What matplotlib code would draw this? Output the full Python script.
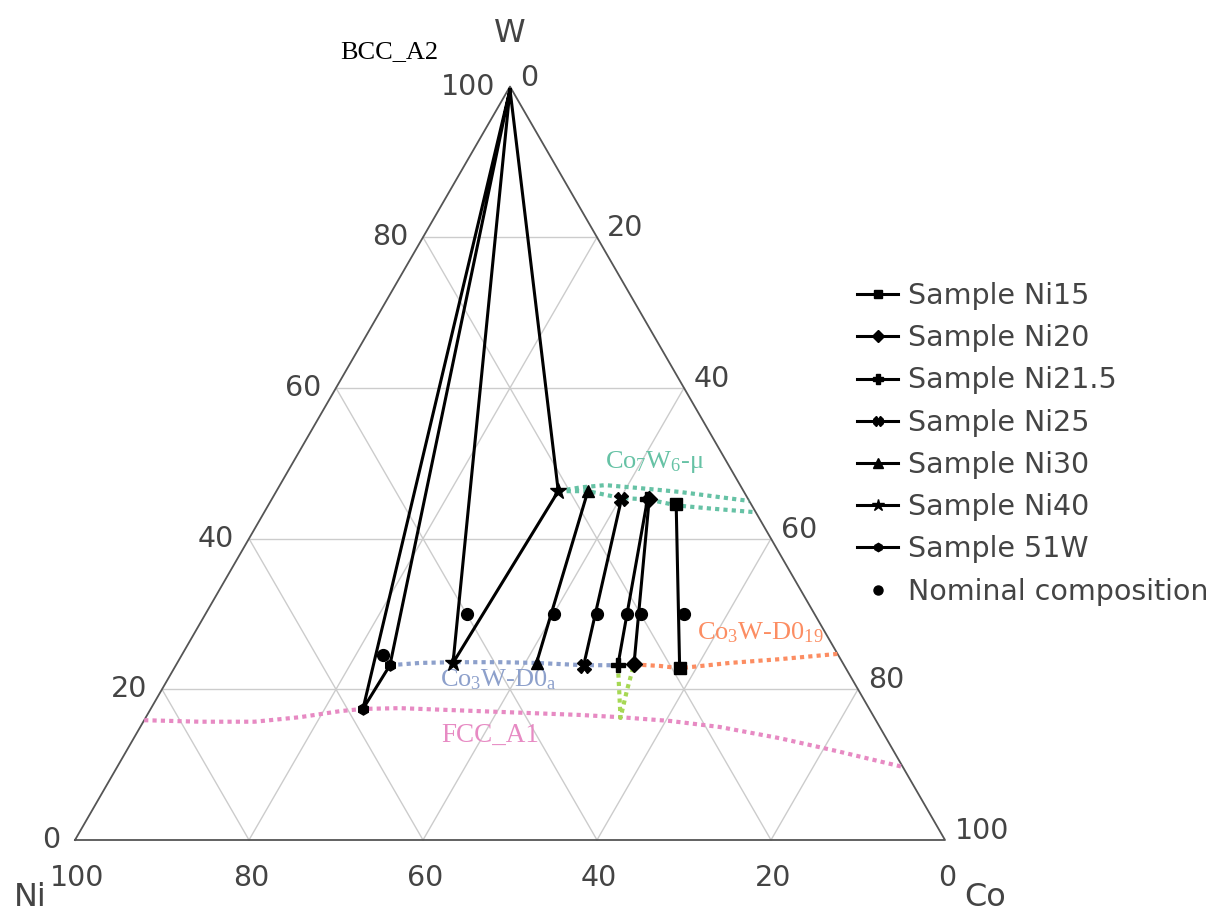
import numpy as np
import matplotlib.pyplot as plt
from matplotlib.lines import Line2D

plt.rcParams['font.family'] = 'DejaVu Sans'
plt.rcParams['mathtext.fontset'] = 'custom'
plt.rcParams['mathtext.rm'] = 'Liberation Serif'
plt.rcParams['mathtext.it'] = 'Liberation Serif:italic'

# compositions in at.% given as (W, Ni); Co is the balance
bcc_w, bcc_ni = 99.6, 0.2

ni15_w, ni15_ni = [44.6, 22.8], [8.6, 19.1]
ni20_w, ni20_ni = [45.2, 23.3], [11.4, 24.1]
ni215_w, ni215_ni = [45.2, 23.2], [11.6, 26.0]
ni25_w, ni25_ni = [45.2, 23.1], [14.6, 30.0]
ni30_w, ni30_ni = [46.3, 23.5], [17.9, 35.2]
ni40_w, ni40_ni = [bcc_w, 46.3, 23.5, bcc_w], [bcc_ni, 21.3, 44.8, bcc_ni]
w51_w, w51_ni = [bcc_w, 17.4, 23.2, bcc_w], [bcc_ni, 58.2, 52.2, bcc_ni]

nominal_w = [30, 30, 30, 30, 30, 30, 24.5]
nominal_ni = [15, 20, 21.5, 25, 30, 40, 52.4]

sample_names = ['Sample Ni15', 'Sample Ni20', 'Sample Ni21.5', 'Sample Ni25',
                'Sample Ni30', 'Sample Ni40', 'Sample 51W']
sample_markers = ['s', 'D', 'P', 'X', '^', '*', 'h']
sample_w = [ni15_w, ni20_w, ni215_w, ni25_w, ni30_w, ni40_w, w51_w]
sample_ni = [ni15_ni, ni20_ni, ni215_ni, ni25_ni, ni30_ni, ni40_ni, w51_ni]

# phase boundaries (W, Ni)
mu_up_w = [46.3, 46.8, 47.1, 46.7, 46.2, 45.5, 45.0]
mu_up_ni = [21.3, 18.5, 15.5, 11.7, 7.4, 3.1, 0.0]
mu_lo_w = [46.3, 46.3, 45.4, 45.2, 44.4, 44.0, 43.5]
mu_lo_ni = [21.3, 17.9, 14.6, 11.5, 8.6, 5.0, 0.0]
d0a_w = [23.2, 23.5, 23.6, 23.6, 23.5, 23.2, 23.2]
d0a_ni = [52.2, 48.6, 44.7, 39.3, 35.2, 29.9, 26.0]
d019_w = [23.3, 23.1, 22.8, 23.5, 24.0, 24.7]
d019_ni = [24.1, 21.2, 19.1, 13.0, 7.0, 0.0]
fcc_d0_w = [23.2, 19.9, 16.2, 19.9, 23.3]
fcc_d0_ni = [26.0, 27.5, 29.2, 26.6, 24.1]
fcc_w = [15.9, 15.7, 15.7, 16.3, 17.1, 17.4, 17.5, 17.1, 16.6, 16.3, 15.8,
         15.0, 13.5, 11.7, 9.7]
fcc_ni = [84.1, 77.8, 71.5, 66.0, 61.0, 58.2, 53.9, 44.9, 33.7, 29.2, 23.7,
          18.4, 12.2, 6.2, 0.0]

ticks = [0, 20, 40, 60, 80, 100]


def tern(w, ni):
    w = np.asarray(w, dtype=float)
    ni = np.asarray(ni, dtype=float)
    co = 100 - w - ni
    return (co + w / 2) / 100, w / 100 * np.sqrt(3) / 2


fig = plt.figure(figsize=(12.15, 9.17), dpi=100)
ax = fig.add_axes([0, 0, 1, 1])
ax.set_xlim(-75 / 870, 1140 / 870)
ax.set_ylim(-77 / 870, 840 / 870)
ax.axis('off')

grid_c = '#cccccc'
edge_c = '#555555'
txt_c = '#444444'

# grid
for g in ticks[1:-1]:
    ax.plot(*tern([g, g], [100 - g, 0]), color=grid_c, lw=1, zorder=1)
    ax.plot(*tern([100 - g, 0], [g, g]), color=grid_c, lw=1, zorder=1)
    ax.plot(*tern([100 - g, 0], [0, 100 - g]), color=grid_c, lw=1, zorder=1)
ax.plot(*tern([0, 0, 100, 0], [100, 0, 0, 100]), color=edge_c, lw=1.3, zorder=2)

# tick labels
px = 1 / 870
for t in ticks:
    x, y = tern(t, 100 - t)
    ax.text(x - 15 * px, y, str(t), ha='right', va='center', fontsize=20.5, color=txt_c)
    x, y = tern(0, t)
    ax.text(x + 2 * px, y - 38 * px, str(t), ha='center', va='center', fontsize=20.5, color=txt_c)
    x, y = tern(100 - t, 0)
    ax.text(x + 10 * px, y + 9 * px, str(t), ha='left', va='center', fontsize=20.5, color=txt_c)

ax.text(0.5, 807 * px, 'W', ha='center', va='center', fontsize=23, color=txt_c)
ax.text(-45 * px, -57 * px, 'Ni', ha='center', va='center', fontsize=23, color=txt_c)
ax.text(910 * px, -58 * px, 'Co', ha='center', va='center', fontsize=23, color=txt_c)

# phase boundaries
dot = (0, (1, 1))
set2 = ['#66c2a5', '#fc8d62', '#8da0cb', '#e78ac3', '#a6d854']
ax.plot(*tern(mu_up_w, mu_up_ni), color=set2[0], lw=3, ls=dot, zorder=3)
ax.plot(*tern(mu_lo_w, mu_lo_ni), color=set2[0], lw=3, ls=dot, zorder=3)
ax.plot(*tern(d019_w, d019_ni), color=set2[1], lw=3, ls=dot, zorder=3)
ax.plot(*tern(d0a_w, d0a_ni), color=set2[2], lw=3, ls=dot, zorder=3)
ax.plot(*tern(fcc_w, fcc_ni), color=set2[3], lw=3, ls=dot, zorder=3)
ax.plot(*tern(fcc_d0_w, fcc_d0_ni), color=set2[4], lw=3, ls=dot, zorder=3)

serif = 'Liberation Serif'
ax.text(314 * px, 788 * px, 'BCC_A2', ha='center', va='center', fontsize=19, family=serif, color='black')
ax.text(0.6667, 0.4345, r'Co$_\mathrm{7}$W$_\mathrm{6}$-μ', ha='center', va='center',
        fontsize=19, family=serif, color=set2[0])
ax.text(0.7874, 0.2379, r'Co$_\mathrm{3}$W-D0$_\mathrm{19}$', ha='center', va='center',
        fontsize=19, family=serif, color=set2[1])
ax.text(0.4862, 0.1839, r'Co$_\mathrm{3}$W-D0$_\mathrm{a}$', ha='center', va='center',
        fontsize=19, family=serif, color=set2[2])
ax.text(0.477, 0.1207, 'FCC_A1', ha='center', va='center', fontsize=19.5, family=serif, color=set2[3])

# samples
sizes = {'s': 8.5, 'D': 8, 'P': 10, 'X': 9.5, '^': 9, '*': 12, 'h': 8}
handles = []
for name, mk, ws, nis in zip(sample_names, sample_markers, sample_w, sample_ni):
    x, y = tern(ws, nis)
    if len(ws) > 2:
        every = list(range(1, len(ws) - 1))
    else:
        every = None
    ax.plot(x, y, color='black', lw=2.2, marker=mk, ms=sizes[mk], markevery=every, zorder=5)
    handles.append(Line2D([], [], color='black', lw=2.2, marker=mk, ms=sizes[mk] * 0.75, label=name))

ax.plot(*tern(nominal_w, nominal_ni), 'o', color='black', ms=8.5, zorder=6)
handles.append(Line2D([], [], color='black', ls='none', marker='o', ms=6.5, label='Nominal composition'))

fig.legend(handles=handles, loc='upper left', bbox_to_anchor=(857 / 1215, 1 - 282 / 917),
           frameon=False, fontsize=20.5, handlelength=1.45, handletextpad=0.35,
           labelspacing=0.5, borderpad=0, borderaxespad=0, labelcolor=txt_c)

fig.savefig('out.png', dpi=100)
